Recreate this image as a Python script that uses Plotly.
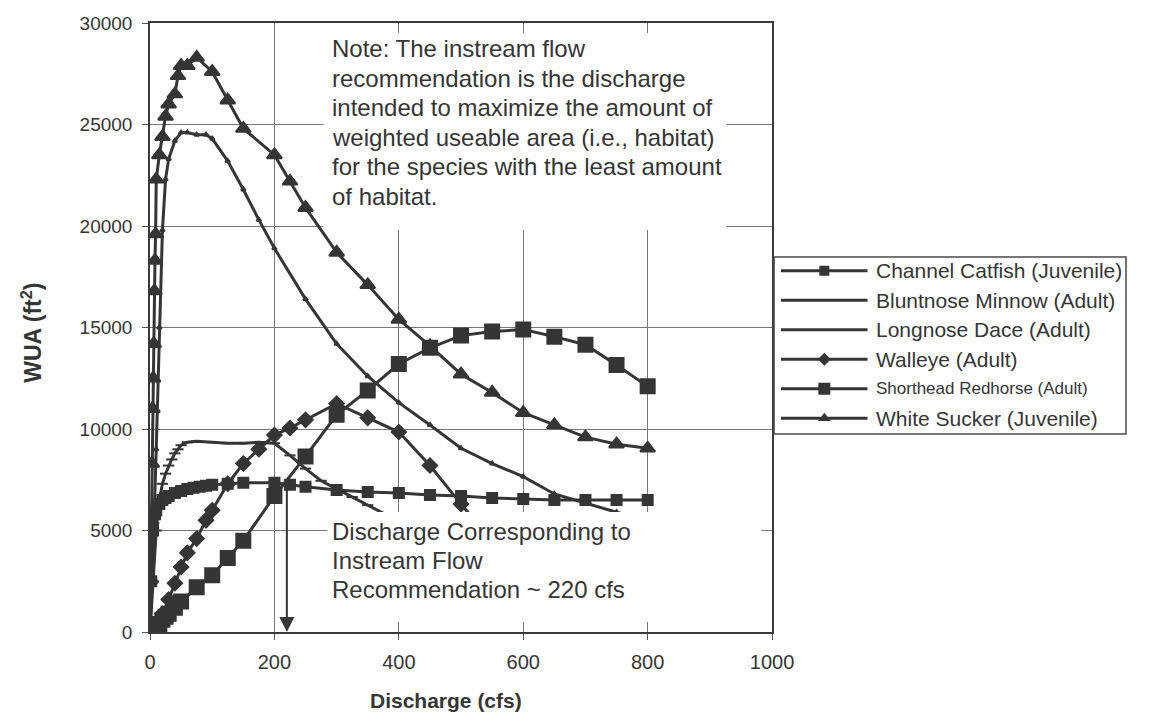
import plotly.graph_objects as go

# ---- Weighted usable area (ft^2) versus discharge (cfs) for each species ----
catfish_q = [0, 2, 5, 8, 10, 15, 20, 25, 30, 40, 50, 60, 70, 80, 90, 100, 125, 150,
             200, 225, 250, 300, 350, 400, 450, 500, 550, 600, 650, 700, 750, 800]
catfish_wua = [0, 2500, 5000, 5800, 6000, 6300, 6500, 6600, 6700, 6850, 6950, 7050, 7100,
               7150, 7200, 7250, 7300, 7350, 7350, 7250, 7150, 7000, 6900, 6850, 6750,
               6700, 6600, 6550, 6500, 6500, 6500, 6500]

bluntnose_q = [0, 5, 10, 15, 20, 25, 30, 40, 50, 60, 75, 90, 100, 125, 150, 175, 200, 250,
               300, 350, 400, 450, 500, 550, 600, 650, 700, 750, 800]
bluntnose_wua = [0, 4000, 9000, 15000, 19800, 22300, 23300, 24200, 24600, 24600, 24500,
                 24500, 24300, 23200, 21800, 20300, 18900, 16400, 14200, 12600, 11300,
                 10200, 9050, 8300, 7650, 6800, 6350, 5900, 5500]

longnose_q = [0, 5, 10, 15, 20, 25, 30, 35, 40, 45, 50, 60, 75, 100, 125, 150, 175, 200,
              225, 250, 275, 300, 325, 350, 375, 400, 450, 500]
longnose_wua = [0, 2500, 5000, 6500, 7300, 7800, 8200, 8500, 8800, 9000, 9200, 9350, 9400,
                9350, 9300, 9300, 9350, 9300, 8700, 8050, 7450, 7050, 6650, 6250, 5850,
                5450, 4800, 4200]

walleye_q = [0, 10, 20, 30, 40, 50, 60, 75, 90, 100, 125, 150, 175, 200, 225, 250, 300,
             350, 400, 450, 500, 550, 600]
walleye_wua = [0, 300, 900, 1600, 2400, 3200, 3900, 4600, 5500, 6000, 7300, 8300, 9000,
               9700, 10050, 10450, 11250, 10550, 9850, 8200, 6300, 4500, 3000]

redhorse_q = [0, 5, 10, 15, 20, 25, 30, 40, 50, 75, 100, 125, 150, 200, 250, 300, 350,
              400, 450, 500, 550, 600, 650, 700, 750, 800]
redhorse_wua = [0, 100, 250, 400, 600, 750, 900, 1200, 1500, 2200, 2800, 3650, 4500, 6700,
                8650, 10700, 11900, 13200, 14000, 14600, 14800, 14900, 14550, 14150,
                13150, 12100]

sucker_q = [0, 1, 2, 3, 4, 5, 6, 7, 8, 9, 10, 15, 20, 25, 30, 40, 45, 50, 60, 75, 100,
            125, 150, 200, 225, 250, 300, 350, 400, 450, 500, 550, 600, 650, 700, 750, 800]
sucker_wua = [0, 2600, 5500, 8300, 11000, 12500, 14200, 16800, 18300, 19600, 22300, 23500,
              24400, 25400, 26000, 26500, 27400, 27900, 27900, 28300, 27600, 26200, 24800,
              23500, 22200, 20900, 18700, 17100, 15400, 14100, 12700, 11800, 10800, 10200,
              9600, 9250, 9050]

recommended_q = 220

note_lines = ["Note: The instream flow",
              "recommendation is the discharge",
              "intended to maximize the amount of",
              "weighted useable area (i.e., habitat)",
              "for the species with the least amount",
              "of habitat."]
flow_lines = ["Discharge Corresponding to",
              "Instream Flow",
              f"Recommendation ~ {recommended_q} cfs"]

INK = "#353535"
FONT = "Liberation Sans, Arial, sans-serif"

W, H = 1161, 726
ML, MR, MT, MB = 150, 20, 23, 94
PW, PH = W - ML - MR, H - MT - MB


def px_x(px):
    return (px - ML) / PW


def px_y(py):
    return (H - MB - py) / PH


# name, x, y, plot marker, plot size, legend marker, legend size, legend font size
series = [
    ("Channel Catfish (Juvenile)", catfish_q, catfish_wua, "square", 10, "square", 10, 21),
    ("Bluntnose Minnow (Adult)", bluntnose_q, bluntnose_wua, "triangle-up", 4, None, 0, 21),
    ("Longnose Dace (Adult)", longnose_q, longnose_wua, "line-ew-open", 8, None, 0, 21),
    ("Walleye (Adult)", walleye_q, walleye_wua, "diamond", 11, "diamond", 10, 21),
    ("Shorthead Redhorse (Adult)", redhorse_q, redhorse_wua, "square", 14, "square", 12, 17),
    ("White Sucker (Juvenile)", sucker_q, sucker_wua, "triangle-up", 13, "triangle-up", 11, 21),
]

fig = go.Figure()

for name, q, w, sym, size, _, _, _ in series:
    fig.add_trace(go.Scatter(
        x=q, y=w, mode="lines+markers", name=name, showlegend=False,
        line=dict(color=INK, width=3),
        marker=dict(symbol=sym, size=size, color=INK, line=dict(color=INK, width=2)),
        hoverinfo="x+y+name",
    ))

# legend drawn on a hidden helper axis pair
for i, (name, _, _, _, _, lsym, lsize, fsize) in enumerate(series):
    fig.add_trace(go.Scatter(
        x=[0, 1], y=[i, i], mode="lines", xaxis="x2", yaxis="y2",
        line=dict(color=INK, width=3), showlegend=False, hoverinfo="skip"))
    if lsym:
        fig.add_trace(go.Scatter(
            x=[0.5], y=[i], mode="markers", xaxis="x2", yaxis="y2",
            marker=dict(symbol=lsym, size=lsize, color=INK), showlegend=False,
            hoverinfo="skip"))
    fig.add_annotation(x=1, y=i, xref="x2", yref="y2", text=name, showarrow=False,
                       xanchor="left", yanchor="middle", xshift=6,
                       font=dict(family=FONT, size=fsize, color=INK))

shapes = [
    # legend frame
    dict(type="rect", xref="paper", yref="paper",
         x0=px_x(783), x1=px_x(1140), y0=px_y(434), y1=px_y(257),
         line=dict(color="#4a4a4a", width=1.5), fillcolor="rgba(0,0,0,0)"),
    # white text boxes over the plot
    dict(type="rect", xref="paper", yref="paper", layer="above",
         x0=px_x(326), x1=px_x(735), y0=px_y(230), y1=px_y(33),
         line=dict(width=0), fillcolor="white"),
    dict(type="rect", xref="paper", yref="paper", layer="above",
         x0=px_x(330), x1=px_x(770), y0=px_y(622), y1=px_y(512),
         line=dict(width=0), fillcolor="white"),
]

for k, line in enumerate(note_lines):
    fig.add_annotation(x=px_x(333), y=px_y(49 + 29.4 * k), xref="paper", yref="paper",
                       text=line, showarrow=False, xanchor="left", yanchor="middle",
                       font=dict(family=FONT, size=24, color=INK))
for k, line in enumerate(flow_lines):
    fig.add_annotation(x=px_x(333), y=px_y(531 + 29 * k), xref="paper", yref="paper",
                       text=line, showarrow=False, xanchor="left", yanchor="middle",
                       font=dict(family=FONT, size=24, color=INK))

# axis titles
fig.add_annotation(x=px_x(450), y=px_y(700), xref="paper", yref="paper",
                   text="<b>Discharge (cfs)</b>", showarrow=False,
                   xanchor="center", yanchor="middle",
                   font=dict(family=FONT, size=21, color=INK))
fig.add_annotation(x=px_x(30), y=px_y(333), xref="paper", yref="paper",
                   text="<b>WUA (ft<sup>2</sup>)</b>", showarrow=False, textangle=-90,
                   xanchor="center", yanchor="middle",
                   font=dict(family=FONT, size=23, color=INK))

# arrow marking the recommended discharge
fig.add_annotation(x=recommended_q, y=0, xref="x", yref="y",
                   ax=recommended_q, ay=7100, axref="x", ayref="y",
                   text="", showarrow=True, arrowhead=2, arrowsize=1.5,
                   arrowwidth=2, arrowcolor=INK, standoff=0)

axis_common = dict(showline=True, mirror=True, linecolor="#3a3a3a", linewidth=1.5,
                   showgrid=True, gridcolor="#777777", gridwidth=1, zeroline=False,
                   ticks="outside", ticklen=6, tickcolor="#555", tickformat="d")

fig.update_layout(
    width=W, height=H,
    margin=dict(l=ML, r=MR, t=MT, b=MB),
    paper_bgcolor="white", plot_bgcolor="white",
    font=dict(family=FONT, color=INK),
    shapes=shapes,
    xaxis=dict(domain=[0, 631 / PW], range=[0, 1000], dtick=200,
               ticklabelstandoff=5,
               tickfont=dict(family=FONT, size=20, color=INK),
               **axis_common),
    yaxis=dict(domain=[0, 1], range=[0, 30000], dtick=5000,
               ticklabelstandoff=6,
               tickfont=dict(family=FONT, size=19, color=INK),
               **axis_common),
    xaxis2=dict(domain=[px_x(790), px_x(878)], range=[0, 1], visible=False,
                anchor="y2", fixedrange=True),
    yaxis2=dict(domain=[px_y(418 + 15), px_y(271 - 15)], range=[5.5, -0.5],
                visible=False, anchor="x2", fixedrange=True),
)

fig.write_html("out.html")
